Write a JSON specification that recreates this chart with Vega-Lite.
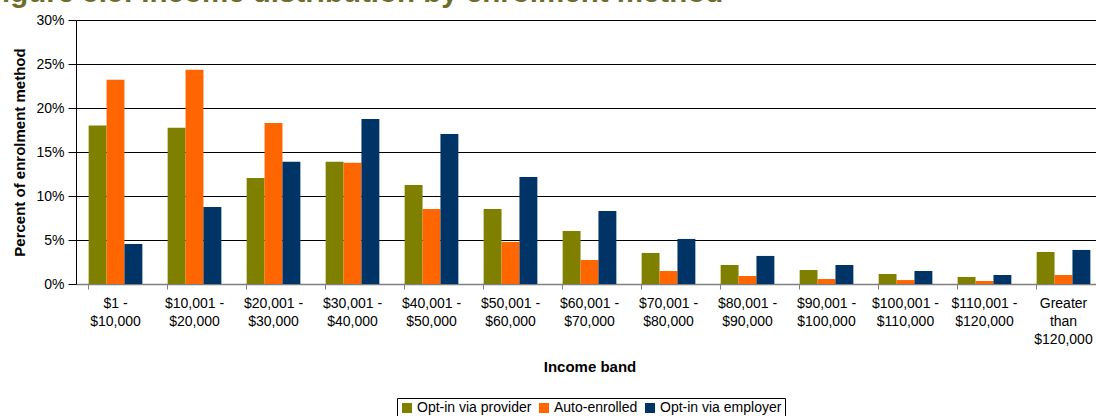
{
  "$schema": "https://vega.github.io/schema/vega-lite/v6.json",
  "autosize": {"type": "none"},
  "padding": {"left": 76, "top": 20, "right": 0, "bottom": 132},
  "width": 1027,
  "height": 264,
  "background": "white",
  "config": {
    "font": "Liberation Sans",
    "view": {"stroke": null}
  },
  "title": {
    "text": "Figure 5.5: Income distribution by enrolment method",
    "anchor": "start",
    "frame": "group",
    "orient": "top",
    "font": "Liberation Sans",
    "fontSize": 29.5,
    "fontWeight": "bold",
    "color": "#6E6E2A",
    "baseline": "alphabetic",
    "offset": 0,
    "dx": -92,
    "dy": 18
  },
  "data": {
    "values": [
      {"band": "$1 -|$10,000", "method": "Opt-in via provider", "value": 18.0},
      {"band": "$1 -|$10,000", "method": "Auto-enrolled", "value": 23.2},
      {"band": "$1 -|$10,000", "method": "Opt-in via employer", "value": 4.55},
      {"band": "$10,001 -|$20,000", "method": "Opt-in via provider", "value": 17.75},
      {"band": "$10,001 -|$20,000", "method": "Auto-enrolled", "value": 24.35},
      {"band": "$10,001 -|$20,000", "method": "Opt-in via employer", "value": 8.75},
      {"band": "$20,001 -|$30,000", "method": "Opt-in via provider", "value": 12.05},
      {"band": "$20,001 -|$30,000", "method": "Auto-enrolled", "value": 18.3},
      {"band": "$20,001 -|$30,000", "method": "Opt-in via employer", "value": 13.9},
      {"band": "$30,001 -|$40,000", "method": "Opt-in via provider", "value": 13.9},
      {"band": "$30,001 -|$40,000", "method": "Auto-enrolled", "value": 13.78},
      {"band": "$30,001 -|$40,000", "method": "Opt-in via employer", "value": 18.75},
      {"band": "$40,001 -|$50,000", "method": "Opt-in via provider", "value": 11.25},
      {"band": "$40,001 -|$50,000", "method": "Auto-enrolled", "value": 8.53},
      {"band": "$40,001 -|$50,000", "method": "Opt-in via employer", "value": 17.05},
      {"band": "$50,001 -|$60,000", "method": "Opt-in via provider", "value": 8.53},
      {"band": "$50,001 -|$60,000", "method": "Auto-enrolled", "value": 4.78},
      {"band": "$50,001 -|$60,000", "method": "Opt-in via employer", "value": 12.17},
      {"band": "$60,001 -|$70,000", "method": "Opt-in via provider", "value": 6.03},
      {"band": "$60,001 -|$70,000", "method": "Auto-enrolled", "value": 2.73},
      {"band": "$60,001 -|$70,000", "method": "Opt-in via employer", "value": 8.3},
      {"band": "$70,001 -|$80,000", "method": "Opt-in via provider", "value": 3.53},
      {"band": "$70,001 -|$80,000", "method": "Auto-enrolled", "value": 1.48},
      {"band": "$70,001 -|$80,000", "method": "Opt-in via employer", "value": 5.12},
      {"band": "$80,001 -|$90,000", "method": "Opt-in via provider", "value": 2.16},
      {"band": "$80,001 -|$90,000", "method": "Auto-enrolled", "value": 0.91},
      {"band": "$80,001 -|$90,000", "method": "Opt-in via employer", "value": 3.19},
      {"band": "$90,001 -|$100,000", "method": "Opt-in via provider", "value": 1.59},
      {"band": "$90,001 -|$100,000", "method": "Auto-enrolled", "value": 0.57},
      {"band": "$90,001 -|$100,000", "method": "Opt-in via employer", "value": 2.16},
      {"band": "$100,001 -|$110,000", "method": "Opt-in via provider", "value": 1.14},
      {"band": "$100,001 -|$110,000", "method": "Auto-enrolled", "value": 0.45},
      {"band": "$100,001 -|$110,000", "method": "Opt-in via employer", "value": 1.48},
      {"band": "$110,001 -|$120,000", "method": "Opt-in via provider", "value": 0.8},
      {"band": "$110,001 -|$120,000", "method": "Auto-enrolled", "value": 0.34},
      {"band": "$110,001 -|$120,000", "method": "Opt-in via employer", "value": 1.02},
      {"band": "Greater|than|$120,000", "method": "Opt-in via provider", "value": 3.64},
      {"band": "Greater|than|$120,000", "method": "Auto-enrolled", "value": 1.02},
      {"band": "Greater|than|$120,000", "method": "Opt-in via employer", "value": 3.87}
    ]
  },
  "mark": {"type": "bar"},
  "encoding": {
    "x": {
      "field": "band",
      "type": "nominal",
      "sort": null,
      "scale": {"paddingInner": 0.32, "paddingOuter": 0.16},
      "axis": {
        "title": "Income band",
        "titleFontSize": 15,
        "titleFontWeight": "bold",
        "titleColor": "black",
        "titlePadding": 13,
        "labelAngle": 0,
        "labelExpr": "split(datum.label, '|')",
        "labelFontSize": 14,
        "labelColor": "black",
        "labelLineHeight": 18,
        "labelPadding": 7,
        "labelBaseline": "top",
        "bandPosition": 0,
        "tickSize": 5,
        "tickColor": "#808080",
        "domainColor": "#808080",
        "domainWidth": 1.5,
        "grid": false
      }
    },
    "xOffset": {
      "field": "method",
      "type": "nominal",
      "sort": ["Opt-in via provider", "Auto-enrolled", "Opt-in via employer"],
      "scale": {"paddingInner": 0, "paddingOuter": 0}
    },
    "y": {
      "field": "value",
      "type": "quantitative",
      "scale": {"domain": [0, 30]},
      "axis": {
        "title": "Percent of enrolment method",
        "titleFontSize": 15,
        "titleFontWeight": "bold",
        "titleColor": "black",
        "titlePadding": 8,
        "values": [0, 5, 10, 15, 20, 25, 30],
        "labelExpr": "datum.value + '%'",
        "labelFontSize": 14,
        "labelColor": "black",
        "labelPadding": 4,
        "tickSize": 8,
        "tickColor": "black",
        "domainColor": "black",
        "grid": true,
        "gridColor": "black",
        "gridWidth": 1
      }
    },
    "color": {
      "field": "method",
      "type": "nominal",
      "sort": ["Opt-in via provider", "Auto-enrolled", "Opt-in via employer"],
      "scale": {
        "domain": ["Opt-in via provider", "Auto-enrolled", "Opt-in via employer"],
        "range": ["#808000", "#FF6600", "#003366"]
      },
      "legend": {
        "orient": "none",
        "legendX": 321,
        "legendY": 378,
        "direction": "horizontal",
        "title": null,
        "symbolType": "square",
        "symbolSize": 100,
        "symbolStrokeWidth": 0,
        "labelFontSize": 14,
        "labelColor": "black",
        "labelOffset": 3,
        "columnPadding": 5,
        "strokeColor": "black",
        "padding": 3
      }
    }
  }
}
